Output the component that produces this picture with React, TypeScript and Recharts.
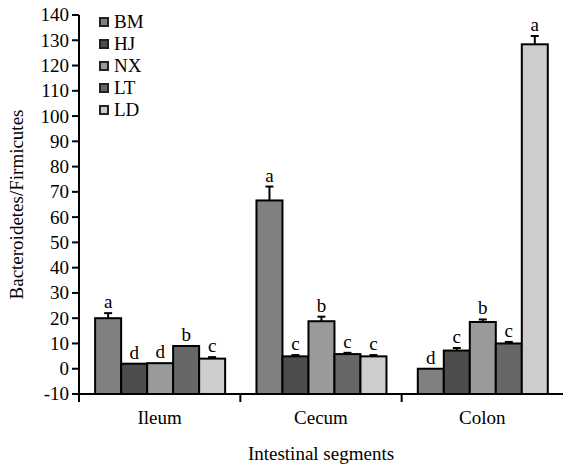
import React from 'react';
import { BarChart, Bar, XAxis, YAxis } from 'recharts';

const segments = ['Ileum', 'Cecum', 'Colon'];
const seriesNames = ['BM', 'HJ', 'NX', 'LT', 'LD'];
const seriesColors = ['#808080', '#4d4d4d', '#9a9a9a', '#676767', '#cdcdcd'];

const bmValues = [20, 66.6, 0];
const hjValues = [2, 4.9, 7.2];
const nxValues = [2.2, 18.8, 18.5];
const ltValues = [9, 5.8, 10];
const ldValues = [4, 4.9, 128.4];

const bmErrors = [2, 5.5, 0];
const hjErrors = [0, 0.5, 1];
const nxErrors = [0, 1.8, 1];
const ltErrors = [0, 0.5, 0.6];
const ldErrors = [0.6, 0.5, 3.3];

const bmLetters = ['a', 'a', 'd'];
const hjLetters = ['d', 'c', 'c'];
const nxLetters = ['d', 'b', 'b'];
const ltLetters = ['b', 'c', 'c'];
const ldLetters = ['c', 'c', 'a'];

const yTicks = [-10, 0, 10, 20, 30, 40, 50, 60, 70, 80, 90, 100, 110, 120, 130, 140];
const AXIS_MIN = -10;
const AXIS_MAX = 140;

const valuesBySeries = [bmValues, hjValues, nxValues, ltValues, ldValues];
const errorsBySeries = [bmErrors, hjErrors, nxErrors, ltErrors, ldErrors];
const lettersBySeries = [bmLetters, hjLetters, nxLetters, ltLetters, ldLetters];

const data = segments.map((segment, i) => {
  const row: any = { segment };
  seriesNames.forEach((name, s) => {
    row[name] = [AXIS_MIN, valuesBySeries[s][i]];
    row[name + '_err'] = errorsBySeries[s][i];
    row[name + '_sig'] = lettersBySeries[s][i];
  });
  return row;
});

const FONT = '"Liberation Serif", "Times New Roman", serif';

const makeShape = (key: string) => (props: any) => {
  const { x, y, width, height, fill, payload } = props;
  const val = payload[key][1];
  const err = payload[key + '_err'] || 0;
  const sig = payload[key + '_sig'];
  const ppu = height / (val - AXIS_MIN);
  const errPx = err * ppu;
  const cx = x + width / 2;
  const errTop = y - errPx;
  return (
    <g>
      <rect x={x} y={y} width={width} height={height} fill={fill} stroke="#000" strokeWidth={2} />
      {err > 0 && (
        <g stroke="#000" strokeWidth={2}>
          <line x1={cx} y1={y} x2={cx} y2={errTop} />
          <line x1={cx - 4} y1={errTop} x2={cx + 4} y2={errTop} />
        </g>
      )}
      <text x={cx} y={errTop - 5} textAnchor="middle" style={{ fontFamily: FONT }} fontSize={19} fill="#000">
        {sig}
      </text>
    </g>
  );
};

const XTick = (props: any) => {
  const { x, y, payload } = props;
  const half = payload && payload.offset ? payload.offset : (563 - 79) / 6;
  return (
    <g>
      <line x1={x - half} y1={y - 8} x2={x - half} y2={y} stroke="#000" strokeWidth={2} />
      <text x={x} y={y + 22} textAnchor="middle" style={{ fontFamily: FONT }} fontSize={19} fill="#000">
        {payload.value}
      </text>
    </g>
  );
};

const YTick = (props: any) => {
  const { x, y, payload } = props;
  return (
    <text x={x} y={y} dy="0.34em" textAnchor="end" style={{ fontFamily: FONT }} fontSize={19} fill="#000">
      {payload.value}
    </text>
  );
};

const YLabel = (props: any) => {
  const vb = props.viewBox || { y: 15, height: 379 };
  const cy = vb.y + vb.height / 2;
  return (
    <text
      x={16}
      y={cy}
      transform={`rotate(-90, 16, ${cy})`}
      textAnchor="middle"
      dominantBaseline="central"
      style={{ fontFamily: FONT }}
      fontSize={19}
      fill="#000"
    >
      Bacteroidetes/Firmicutes
    </text>
  );
};

const LegendBox = () => (
  <div
    style={{
      position: 'absolute',
      left: 99,
      top: 11,
      fontFamily: FONT,
      fontSize: 19,
      color: '#000',
      pointerEvents: 'none',
    }}
  >
    {seriesNames.map((name, i) => (
      <div key={name} style={{ display: 'flex', alignItems: 'center', height: 22 }}>
        <span
          style={{
            display: 'inline-block',
            width: 6,
            height: 6,
            border: '2px solid #222',
            background: seriesColors[i],
            marginRight: 5,
          }}
        />
        <span style={{ lineHeight: '22px' }}>{name}</span>
      </div>
    ))}
  </div>
);

export default function App() {
  return (
    <div
      style={{
        position: 'absolute',
        left: 0,
        top: 0,
        width: 563,
        height: 466,
        background: '#fff',
        fontFamily: FONT,
      }}
    >
      <BarChart
        width={563}
        height={466}
        data={data}
        margin={{ top: 15, right: 0, left: 0, bottom: 0 }}
        barCategoryGap="10%"
        barGap={0}
      >
        <XAxis
          dataKey="segment"
          height={72}
          axisLine={{ stroke: '#000', strokeWidth: 2 }}
          tickLine={false}
          tick={<XTick />}
          interval={0}
          label={{
            value: 'Intestinal segments',
            position: 'insideBottom',
            offset: 6,
            style: { fontFamily: FONT },
            fontSize: 19,
            fill: '#000',
          }}
        />
        <YAxis
          width={79}
          type="number"
          domain={[AXIS_MIN, AXIS_MAX]}
          ticks={yTicks}
          interval={0}
          axisLine={{ stroke: '#000', strokeWidth: 2 }}
          tickLine={{ stroke: '#000', strokeWidth: 2 }}
          tickSize={7}
          tickMargin={3}
          tick={<YTick />}
          label={<YLabel />}
        />
        {seriesNames.map((name, i) => (
          <Bar
            key={name}
            dataKey={name}
            name={name}
            fill={seriesColors[i]}
            isAnimationActive={false}
            shape={makeShape(name)}
          />
        ))}
      </BarChart>
      <LegendBox />
    </div>
  );
}
